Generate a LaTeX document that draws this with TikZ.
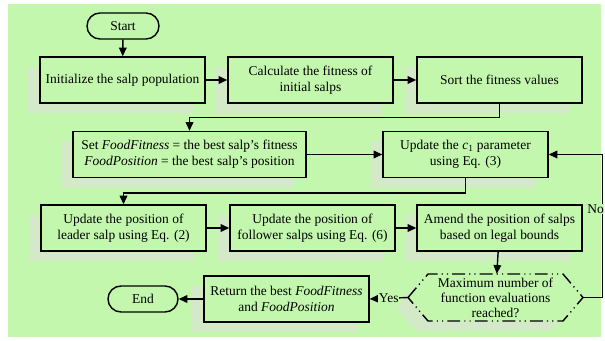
\documentclass[tikz,border=0pt]{standalone}
\usepackage{fontspec}
\setmainfont{Liberation Serif}
\usetikzlibrary{positioning,calc,arrows.meta,shadows}
\definecolor{flowgreen}{HTML}{C3F7AE}
\definecolor{shadowgreen}{HTML}{D3E9C8}
\tikzset{
  every node/.append style={font=\fontsize{11.5}{13.6}\selectfont},
  boxshadow/.style={drop shadow={shadow xshift=-3.6mm,shadow yshift=-3mm,fill=shadowgreen,opacity=1}},
  stepbox/.style={draw,line width=1.2pt,fill=flowgreen,minimum width=49.5mm,
    minimum height=13.8mm,align=center,inner sep=2pt,boxshadow},
  termbox/.style={draw,line width=1.2pt,fill=flowgreen,rounded corners=3.9mm,
    minimum width=21.6mm,minimum height=7.8mm,inner sep=1pt},
  hexline/.style={line width=1.2pt,fill=flowgreen,boxshadow,
    dash pattern=on 11pt off 3.5pt on 1pt off 3.5pt on 1pt off 3.5pt},
  flowarrow/.style={line width=1.2pt,-{Triangle[length=2.6mm,width=2.3mm]}},
  flowlabel/.style={fill=flowgreen,inner sep=0.5pt},
}
\begin{document}
\begin{tikzpicture}[x=0.03cm,y=-0.03cm]
  \useasboundingbox (0,0) rectangle (605,341);
  \fill[flowgreen] (8,4) rectangle (601,337);

  \node[termbox] (start) at (123,26) {Start};
  \node[stepbox] (init) at (122.5,80) {Initialize the salp population};
  \node[stepbox] (fitcalc) at (310.5,80) {Calculate the fitness of\\initial salps};
  \node[stepbox] (sortfit) at (499.5,80) {Sort the fitness values};

  \node[stepbox,minimum width=69.9mm] (setfood) at (189.5,154.5)
    {Set \textit{FoodFitness} = the best salp's fitness\\\textit{FoodPosition} = the best salp's position};
  \node[stepbox] (updc) at (465.5,154.5) {Update the \textit{c}\textsubscript{1} parameter\\using Eq. (3)};

  \node[stepbox] (leader) at (123.5,228) {Update the position of\\leader salp using Eq. (2)};
  \node[stepbox] (follower) at (312.5,228) {Update the position of\\follower salps using Eq. (6)};
  \node[stepbox] (amend) at (499.5,228) {Amend the position of salps\\based on legal bounds};

  \coordinate (decc) at (495.5,297.5);
  \draw[hexline] ($(decc)+(-87.5,0)$) -- ($(decc)+(-67.5,-23.5)$) -- ($(decc)+(67.5,-23.5)$)
    -- ($(decc)+(87.5,0)$) -- ($(decc)+(67.5,23.5)$) -- ($(decc)+(-67.5,23.5)$) -- cycle;
  \node[align=center,minimum width=52.5mm,minimum height=14.1mm,inner sep=0pt,
    font=\fontsize{11.5}{12.8}\selectfont] (maxeval) at (decc)
    {Maximum number of\\function evaluations\\reached?};

  \node[stepbox] (ret) at (286.5,299) {Return the best \textit{FoodFitness}\\and \textit{FoodPosition}};
  \node[termbox,minimum width=21mm] (finish) at (143,299) {End};

  \draw[flowarrow] (start) -- (init);
  \draw[flowarrow] (init) -- (fitcalc);
  \draw[flowarrow] (fitcalc) -- (sortfit);
  \draw[flowarrow] (sortfit.south) -- ++(0,14) -| (setfood.north);
  \draw[flowarrow] (setfood) -- (updc);
  \draw[flowarrow] (updc.south) -- ++(0,15) -| (leader.north);
  \draw[flowarrow] (leader) -- (follower);
  \draw[flowarrow] (follower) -- (amend);
  \draw[flowarrow] (amend) -- (maxeval);
  \draw[flowarrow] (maxeval.west) -- node[flowlabel] {Yes} (ret.east);
  \draw[flowarrow] (ret) -- (finish);
  \draw[flowarrow] (maxeval.east) -- ++(19,0) |- node[pos=0.31,flowlabel,anchor=east,xshift=2.5pt] {No} (updc.east);
\end{tikzpicture}
\end{document}
